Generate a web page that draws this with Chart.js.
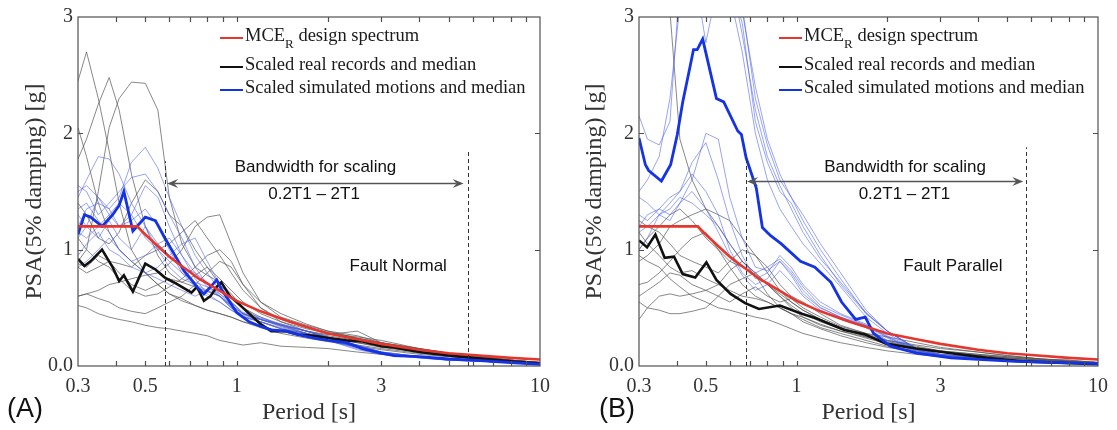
<!DOCTYPE html>
<html>
<head>
<meta charset="utf-8">
<script src="https://cdn.jsdelivr.net/npm/chart.js@4.4.0/dist/chart.umd.min.js"></script>
<style>
  body { margin: 0; background: #fff; width: 1117px; height: 430px; overflow: hidden; position: relative; }
  .panel { position: absolute; top: 0; }
</style>
</head>
<body>
<div class="panel" style="left:0"><canvas id="chartA" width="560" height="430"></canvas></div>
<div class="panel" style="left:560px"><canvas id="chartB" width="557" height="430"></canvas></div>
<script>
// period grid shared by the single records [s]
const periods = [0.3, 0.32, 0.35, 0.38, 0.41, 0.45, 0.5, 0.55, 0.6, 0.66, 0.73, 0.8, 0.88, 0.96, 1.05, 1.2, 1.4, 1.7, 2.0, 2.5, 3.0, 4.0, 5.0, 6.5, 8.0, 10]

// MCE_R design spectrum (same in both panels)
const designPeriods = [0.3, 0.47, 0.5, 0.55, 0.6, 0.65, 0.7, 0.75, 0.8, 0.9, 1.0, 1.2, 1.5, 2.0, 2.5, 3.0, 4.0, 5.0, 6.0, 8.0, 10]
const designPSA = [1.2, 1.2, 1.13, 1.03, 0.94, 0.87, 0.81, 0.75, 0.71, 0.63, 0.56, 0.47, 0.38, 0.28, 0.23, 0.19, 0.14, 0.11, 0.094, 0.07, 0.056]

// (A) fault normal - medians
const medianPeriodsA = [0.3, 0.315, 0.33, 0.36, 0.39, 0.41, 0.425, 0.455, 0.5, 0.54, 0.58, 0.62, 0.67, 0.71, 0.74, 0.78, 0.82, 0.86, 0.89, 0.95, 1.0, 1.1, 1.2, 1.3, 1.45, 1.6, 1.8, 2.0, 2.3, 2.6, 3.0, 3.3, 4.0, 5.0, 6.0, 8.0, 10]
const realMedianA = [0.92, 0.86, 0.9, 1.0, 0.85, 0.73, 0.78, 0.64, 0.88, 0.83, 0.76, 0.72, 0.67, 0.63, 0.68, 0.56, 0.6, 0.68, 0.72, 0.6, 0.55, 0.45, 0.36, 0.3, 0.3, 0.27, 0.26, 0.24, 0.22, 0.21, 0.17, 0.16, 0.12, 0.09, 0.07, 0.04, 0.02]
const simMedianA = [1.13, 1.3, 1.28, 1.2, 1.3, 1.38, 1.5, 1.16, 1.28, 1.25, 1.1, 0.97, 0.82, 0.74, 0.68, 0.62, 0.68, 0.74, 0.66, 0.55, 0.46, 0.38, 0.34, 0.31, 0.3, 0.27, 0.24, 0.22, 0.2, 0.15, 0.11, 0.09, 0.08, 0.06, 0.05, 0.03, 0.015]

// (A) scaled real records
const realA1 = [2.45, 2.7, 2.3, 1.85, 1.4, 1.0, 0.8, 0.7, 0.62, 0.56, 0.52, 0.48, 0.45, 0.42, 0.38, 0.34, 0.3, 0.25, 0.22, 0.18, 0.15, 0.11, 0.08, 0.06, 0.04, 0.02]
const realA2 = [1.78, 1.95, 2.25, 2.48, 2.2, 1.65, 1.2, 0.95, 0.8, 0.72, 0.68, 0.64, 0.6, 0.52, 0.45, 0.38, 0.32, 0.28, 0.25, 0.2, 0.16, 0.12, 0.09, 0.06, 0.045, 0.03]
const realA3 = [2.05, 1.8, 1.4, 1.15, 1.0, 0.9, 0.8, 0.7, 0.62, 0.58, 0.52, 0.48, 0.45, 0.42, 0.38, 0.33, 0.28, 0.24, 0.21, 0.17, 0.14, 0.1, 0.08, 0.06, 0.04, 0.025]
const realA4 = [0.9, 1.0, 1.5, 2.05, 2.3, 2.44, 2.43, 2.2, 1.45, 1.05, 0.85, 0.78, 0.72, 0.62, 0.5, 0.4, 0.34, 0.28, 0.24, 0.2, 0.17, 0.12, 0.09, 0.07, 0.05, 0.03]
const realA5 = [0.6, 0.62, 0.65, 0.7, 0.72, 0.75, 0.78, 0.8, 0.88, 1.0, 1.2, 1.28, 1.3, 1.05, 0.8, 0.55, 0.42, 0.35, 0.3, 0.26, 0.2, 0.15, 0.11, 0.08, 0.05, 0.03]
const realA6 = [0.85, 0.8, 0.85, 0.9, 0.88, 0.85, 0.95, 1.0, 1.05, 1.15, 1.25, 1.1, 0.95, 0.8, 0.65, 0.5, 0.4, 0.33, 0.29, 0.24, 0.2, 0.14, 0.1, 0.07, 0.05, 0.03]
const realA7 = [0.52, 0.5, 0.45, 0.42, 0.4, 0.38, 0.35, 0.33, 0.32, 0.3, 0.28, 0.26, 0.22, 0.2, 0.18, 0.2, 0.17, 0.16, 0.15, 0.12, 0.1, 0.08, 0.06, 0.05, 0.04, 0.02]
const realA8 = [0.6, 0.62, 0.58, 0.55, 0.5, 0.47, 0.45, 0.5, 0.55, 0.6, 0.7, 0.8, 0.9, 0.85, 0.7, 0.5, 0.38, 0.3, 0.27, 0.3, 0.2, 0.13, 0.1, 0.07, 0.05, 0.03]
const realA9 = [0.88, 0.85, 0.95, 0.9, 0.8, 0.7, 0.65, 0.7, 0.75, 0.72, 0.78, 0.85, 0.75, 0.65, 0.55, 0.45, 0.38, 0.32, 0.28, 0.25, 0.22, 0.15, 0.11, 0.08, 0.05, 0.03]
const realA10 = [1.4, 1.3, 1.1, 1.05, 1.15, 1.4, 1.6, 1.5, 1.3, 1.2, 1.0, 0.85, 0.7, 0.6, 0.5, 0.42, 0.35, 0.3, 0.26, 0.22, 0.18, 0.13, 0.1, 0.07, 0.05, 0.03]
const realA11 = [1.1, 1.0, 0.9, 0.85, 0.75, 0.65, 0.6, 0.62, 0.68, 0.75, 0.85, 0.95, 1.0, 0.9, 0.7, 0.55, 0.45, 0.36, 0.3, 0.24, 0.2, 0.15, 0.11, 0.08, 0.05, 0.03]

// (A) scaled simulated motions
const simA1 = [1.45, 1.6, 1.8, 1.78, 1.65, 1.4, 1.2, 1.0, 0.85, 0.75, 0.7, 0.65, 0.6, 0.5, 0.42, 0.38, 0.32, 0.27, 0.22, 0.16, 0.11, 0.08, 0.06, 0.04, 0.03, 0.02]
const simA2 = [1.2, 1.35, 1.4, 1.35, 1.45, 1.75, 1.88, 1.7, 1.45, 1.2, 0.95, 0.8, 0.65, 0.55, 0.45, 0.4, 0.35, 0.3, 0.25, 0.18, 0.12, 0.08, 0.06, 0.04, 0.03, 0.02]
const simA3 = [1.55, 1.5, 1.3, 1.4, 1.5, 1.62, 1.65, 1.5, 1.3, 1.1, 0.85, 0.7, 0.6, 0.5, 0.44, 0.4, 0.35, 0.28, 0.22, 0.16, 0.11, 0.08, 0.06, 0.04, 0.03, 0.02]
const simA4 = [1.1, 1.2, 1.45, 1.35, 1.2, 1.3, 1.55, 1.45, 1.2, 0.95, 0.75, 0.62, 0.55, 0.48, 0.42, 0.38, 0.33, 0.28, 0.24, 0.16, 0.1, 0.08, 0.05, 0.04, 0.03, 0.02]
const simA5 = [1.3, 1.2, 1.1, 1.25, 1.1, 1.0, 1.2, 1.05, 0.95, 0.85, 0.8, 0.72, 0.62, 0.52, 0.45, 0.4, 0.36, 0.3, 0.24, 0.17, 0.12, 0.08, 0.06, 0.04, 0.03, 0.02]
const simA6 = [0.95, 1.05, 1.15, 1.0, 0.95, 0.85, 0.8, 0.85, 0.95, 1.05, 1.1, 0.9, 0.7, 0.55, 0.45, 0.4, 0.35, 0.3, 0.25, 0.18, 0.12, 0.08, 0.06, 0.04, 0.03, 0.02]
const simA7 = [1.35, 1.4, 1.25, 1.15, 1.0, 0.9, 0.8, 0.75, 0.7, 0.65, 0.6, 0.65, 0.6, 0.5, 0.42, 0.4, 0.35, 0.28, 0.22, 0.15, 0.1, 0.07, 0.05, 0.04, 0.03, 0.02]
const simA8 = [1.5, 1.55, 1.45, 1.3, 1.2, 1.25, 1.35, 1.2, 1.0, 0.8, 0.68, 0.6, 0.55, 0.48, 0.43, 0.38, 0.32, 0.27, 0.22, 0.14, 0.1, 0.07, 0.05, 0.04, 0.03, 0.02]
const simA9 = [1.15, 1.1, 1.2, 1.3, 1.4, 1.3, 1.1, 1.0, 0.9, 0.8, 0.72, 0.68, 0.62, 0.55, 0.46, 0.42, 0.36, 0.3, 0.24, 0.16, 0.12, 0.08, 0.06, 0.04, 0.03, 0.02]
const simA10 = [0.85, 0.9, 1.0, 1.1, 1.0, 0.9, 0.95, 1.05, 1.1, 0.95, 0.8, 0.68, 0.6, 0.52, 0.45, 0.41, 0.36, 0.3, 0.25, 0.17, 0.11, 0.07, 0.05, 0.04, 0.03, 0.02]

// (B) fault parallel - medians
const simMedianPeriodsB = [0.3, 0.315, 0.323, 0.356, 0.382, 0.402, 0.419, 0.442, 0.455, 0.468, 0.488, 0.542, 0.573, 0.638, 0.656, 0.68, 0.735, 0.77, 0.82, 0.89, 1.03, 1.15, 1.3, 1.41, 1.57, 1.69, 1.8, 2.05, 2.5, 3.25, 5.3, 10]
const simMedianB = [1.96, 1.73, 1.68, 1.59, 1.73, 1.99, 2.27, 2.56, 2.72, 2.72, 2.81, 2.3, 2.27, 2.02, 1.99, 1.79, 1.53, 1.19, 1.12, 1.05, 0.9, 0.85, 0.72, 0.55, 0.4, 0.42, 0.28, 0.17, 0.11, 0.07, 0.04, 0.02]
const realMedianPeriodsB = [0.3, 0.319, 0.34, 0.365, 0.392, 0.419, 0.461, 0.502, 0.542, 0.604, 0.675, 0.75, 0.88, 1.04, 1.16, 1.44, 1.69, 1.99, 2.49, 3.26, 4.28, 5.61, 10]
const realMedianB = [1.08, 1.02, 1.13, 0.93, 0.94, 0.79, 0.76, 0.89, 0.74, 0.62, 0.54, 0.49, 0.52, 0.45, 0.41, 0.31, 0.27, 0.19, 0.15, 0.11, 0.07, 0.04, 0.015]

// (B) scaled real records
const realB1 = [4.2, 3.9, 3.5, 3.05, 1.95, 1.6, 1.35, 1.2, 1.05, 0.9, 0.8, 0.7, 0.62, 0.55, 0.48, 0.4, 0.33, 0.25, 0.2, 0.15, 0.12, 0.09, 0.07, 0.05, 0.04, 0.03]
const realB2 = [1.0, 1.1, 1.2, 1.3, 1.35, 1.25, 1.1, 1.0, 0.9, 0.85, 0.78, 0.7, 0.6, 0.52, 0.45, 0.38, 0.32, 0.26, 0.2, 0.15, 0.12, 0.09, 0.07, 0.05, 0.04, 0.02]
const realB3 = [0.9, 0.95, 1.05, 1.2, 1.25, 1.3, 1.35, 1.3, 1.25, 1.1, 0.95, 0.8, 0.65, 0.55, 0.48, 0.4, 0.33, 0.27, 0.21, 0.16, 0.13, 0.1, 0.08, 0.06, 0.04, 0.03]
const realB4 = [1.25, 1.2, 1.15, 1.05, 0.95, 0.9, 0.85, 0.8, 0.9, 1.0, 0.95, 0.85, 0.7, 0.6, 0.55, 0.45, 0.35, 0.28, 0.22, 0.17, 0.13, 0.1, 0.08, 0.06, 0.04, 0.03]
const realB5 = [0.55, 0.5, 0.48, 0.45, 0.45, 0.47, 0.5, 0.6, 0.7, 0.75, 0.8, 0.7, 0.6, 0.5, 0.42, 0.35, 0.3, 0.24, 0.19, 0.15, 0.12, 0.09, 0.07, 0.05, 0.04, 0.02]
const realB6 = [0.4, 0.5, 0.6, 0.62, 0.6, 0.62, 0.65, 0.7, 0.82, 0.9, 0.78, 0.62, 0.5, 0.45, 0.38, 0.32, 0.26, 0.2, 0.16, 0.12, 0.09, 0.07, 0.05, 0.04, 0.03, 0.02]
const realB7 = [0.7, 0.72, 0.8, 0.9, 1.0, 1.1, 1.15, 1.0, 0.85, 0.7, 0.6, 0.55, 0.5, 0.45, 0.4, 0.33, 0.28, 0.22, 0.17, 0.13, 0.1, 0.08, 0.06, 0.05, 0.04, 0.02]
const realB8 = [0.95, 0.9, 0.85, 0.75, 0.68, 0.6, 0.55, 0.5, 0.48, 0.45, 0.42, 0.4, 0.36, 0.32, 0.28, 0.24, 0.2, 0.16, 0.13, 0.1, 0.08, 0.06, 0.05, 0.04, 0.03, 0.02]
const realB9 = [0.6, 0.65, 0.72, 0.8, 0.78, 0.7, 0.65, 0.6, 0.55, 0.62, 0.68, 0.6, 0.55, 0.58, 0.5, 0.42, 0.34, 0.28, 0.25, 0.2, 0.16, 0.12, 0.09, 0.06, 0.05, 0.03]
const realB10 = [1.15, 1.05, 0.95, 0.85, 0.8, 0.82, 0.75, 0.7, 0.65, 0.6, 0.58, 0.55, 0.5, 0.45, 0.42, 0.36, 0.3, 0.25, 0.22, 0.18, 0.15, 0.12, 0.09, 0.06, 0.05, 0.03]

// (B) scaled simulated motions
const simB1 = [2.15, 1.95, 1.9, 2.1, 3.3, 3.6, 3.7, 3.5, 3.3, 3.1, 2.3, 1.9, 1.6, 1.45, 1.25, 1.0, 0.75, 0.45, 0.3, 0.15, 0.1, 0.07, 0.05, 0.04, 0.03, 0.02]
const simB2 = [3.6, 3.8, 4.0, 4.2, 4.0, 3.8, 3.6, 3.5, 3.3, 2.95, 2.1, 1.75, 1.5, 1.4, 1.2, 0.95, 0.7, 0.45, 0.3, 0.15, 0.1, 0.07, 0.05, 0.04, 0.03, 0.02]
const simB3 = [1.5, 1.6, 1.8, 2.3, 3.1, 3.5, 2.78, 3.3, 3.4, 3.05, 2.4, 1.95, 1.65, 1.45, 1.3, 1.05, 0.8, 0.48, 0.3, 0.14, 0.09, 0.06, 0.05, 0.04, 0.03, 0.02]
const simB4 = [3.3, 3.5, 3.8, 4.0, 4.1, 4.0, 3.8, 3.5, 3.2, 2.7, 2.0, 1.6, 1.35, 1.2, 1.05, 0.88, 0.68, 0.42, 0.28, 0.14, 0.09, 0.06, 0.05, 0.04, 0.03, 0.02]
const simB5 = [3.1, 3.4, 3.6, 3.9, 4.2, 4.4, 4.2, 3.9, 3.4, 2.85, 2.2, 1.8, 1.55, 1.35, 1.15, 0.92, 0.72, 0.46, 0.3, 0.15, 0.1, 0.07, 0.05, 0.04, 0.03, 0.02]
const simB6 = [1.2, 1.3, 1.35, 1.3, 1.4, 1.6, 2.0, 1.95, 1.45, 1.1, 0.85, 0.82, 0.9, 0.8, 0.65, 0.5, 0.42, 0.35, 0.25, 0.13, 0.09, 0.06, 0.05, 0.04, 0.03, 0.02]
const simB7 = [1.0, 1.1, 1.3, 1.4, 1.5, 1.75, 1.92, 1.6, 1.25, 0.95, 0.75, 0.8, 0.95, 0.85, 0.7, 0.55, 0.45, 0.36, 0.26, 0.14, 0.09, 0.06, 0.05, 0.04, 0.03, 0.02]
const simB8 = [1.3, 1.25, 1.35, 1.45, 1.5, 1.65, 1.5, 1.3, 1.0, 0.8, 0.7, 0.75, 0.9, 0.78, 0.62, 0.5, 0.42, 0.34, 0.24, 0.12, 0.08, 0.06, 0.05, 0.04, 0.03, 0.02]
const simB9 = [1.15, 1.2, 1.3, 1.25, 1.4, 1.5, 1.35, 1.15, 0.95, 0.78, 0.65, 0.7, 0.82, 0.72, 0.6, 0.48, 0.4, 0.33, 0.22, 0.12, 0.08, 0.06, 0.05, 0.04, 0.03, 0.02]
const simB10 = [1.45, 1.4, 1.3, 1.35, 1.45, 1.4, 1.3, 1.2, 1.05, 0.9, 0.8, 0.85, 0.92, 0.82, 0.68, 0.52, 0.44, 0.35, 0.25, 0.13, 0.09, 0.06, 0.05, 0.04, 0.03, 0.02]

// axes
const xTickLabels = [0.3, 0.5, 1, 3, 10]
const xTickMarks = [0.4, 0.5, 0.6, 0.7, 0.8, 0.9, 1, 2, 3, 4, 5, 6, 7, 8, 9]
const yTickLabels = [0, 1, 2, 3]
const yTickMarks = [1, 2]

const legendLabels = ['MCE_R design spectrum', 'Scaled real records and median', 'Scaled simulated motions and median']

const RED = '#e5372d'
const BLACK = '#111111'
const BLUE = '#1432e6'
const GREY_THIN = 'rgba(85, 85, 85, 0.7)'
const BLUE_THIN = 'rgba(70, 90, 232, 0.55)'
const legendColors = [RED, BLACK, BLUE]

const serif = "'Liberation Serif', 'Times New Roman', serif"
const sans = "'Liberation Sans', Arial, sans-serif"

const toPoints = (xs, ys) => xs.map((x, i) => ({x: x, y: ys[i]}))

const line = (xs, ys, color, width) => ({
  data: toPoints(xs, ys),
  borderColor: color,
  borderWidth: width,
  pointRadius: 0,
  fill: false,
  tension: 0
})

function buildDatasets(realMedP, realMed, simMedP, simMed, reals, sims) {
  // first dataset is drawn on top
  return [
    line(designPeriods, designPSA, RED, 2.6),
    line(simMedP, simMed, BLUE, 2.8),
    line(realMedP, realMed, BLACK, 2.6),
    ...sims.map(s => line(periods, s, BLUE_THIN, 1)),
    ...reals.map(r => line(periods, r, GREY_THIN, 1))
  ]
}

function drawArrowHead(ctx, x, y, dir) {
  ctx.beginPath()
  ctx.moveTo(x, y)
  ctx.lineTo(x + dir * 11, y - 4.5)
  ctx.lineTo(x + dir * 7, y)
  ctx.lineTo(x + dir * 11, y + 4.5)
  ctx.closePath()
  ctx.fill()
}

function decor(p) {
  return {
    id: 'decor',
    afterDraw(chart) {
      const ctx = chart.ctx
      const a = chart.chartArea
      const x = chart.scales.x
      const y = chart.scales.y
      ctx.save()

      // frame and inward ticks
      ctx.strokeStyle = '#505050'
      ctx.lineWidth = 1.2
      ctx.strokeRect(a.left, a.top, a.right - a.left, a.bottom - a.top)
      ctx.beginPath()
      xTickMarks.forEach(t => {
        const px = Math.round(x.getPixelForValue(t)) + 0.5
        ctx.moveTo(px, a.bottom); ctx.lineTo(px, a.bottom - 5)
        ctx.moveTo(px, a.top); ctx.lineTo(px, a.top + 5)
      })
      yTickMarks.forEach(v => {
        const py = Math.round(y.getPixelForValue(v)) + 0.5
        ctx.moveTo(a.left, py); ctx.lineTo(a.left + 5, py)
        ctx.moveTo(a.right, py); ctx.lineTo(a.right - 5, py)
      })
      ctx.stroke()

      // bandwidth limits
      ctx.strokeStyle = '#333'
      ctx.lineWidth = 1
      ctx.setLineDash([4, 3])
      p.dashed.forEach(d => {
        const px = Math.round(x.getPixelForValue(d[0])) + 0.5
        ctx.beginPath()
        ctx.moveTo(px, y.getPixelForValue(0))
        ctx.lineTo(px, y.getPixelForValue(d[1]))
        ctx.stroke()
      })
      ctx.setLineDash([])

      // double arrow
      const ax1 = x.getPixelForValue(p.arrow[0])
      const ax2 = x.getPixelForValue(p.arrow[1])
      const ay = Math.round(y.getPixelForValue(p.arrow[2])) + 0.5
      ctx.strokeStyle = '#555'
      ctx.fillStyle = '#555'
      ctx.lineWidth = 1.3
      ctx.beginPath()
      ctx.moveTo(ax1 + 7, ay); ctx.lineTo(ax2 - 7, ay)
      ctx.stroke()
      drawArrowHead(ctx, ax1, ay, 1)
      drawArrowHead(ctx, ax2, ay, -1)

      // annotations
      ctx.fillStyle = '#111'
      ctx.font = '17px ' + sans
      ctx.textAlign = 'center'
      ctx.textBaseline = 'middle'
      p.notes.forEach(n => {
        ctx.fillText(n.text, x.getPixelForValue(n.t), y.getPixelForValue(n.v))
      })

      // legend
      ctx.textAlign = 'left'
      const lx = a.left + p.legendX
      legendLabels.forEach((lab, i) => {
        const ly = a.top + p.legendRows[i]
        ctx.strokeStyle = legendColors[i]
        ctx.lineWidth = 2
        ctx.beginPath()
        ctx.moveTo(lx, ly); ctx.lineTo(lx + 23, ly)
        ctx.stroke()
        ctx.fillStyle = '#1a1a1a'
        ctx.font = '18.5px ' + serif
        let tx = lx + 25
        const parts = lab.split('_')
        ctx.fillText(parts[0], tx, ly - 2)
        if (parts.length > 1) {
          tx += ctx.measureText(parts[0]).width
          ctx.font = '13px ' + serif
          ctx.fillText(parts[1][0], tx, ly + 7)
          tx += ctx.measureText(parts[1][0]).width
          ctx.font = '18.5px ' + serif
          ctx.fillText(parts[1].slice(1), tx, ly - 2)
        }
      })

      // panel letter
      ctx.fillStyle = '#111'
      ctx.font = '27px ' + sans
      ctx.textAlign = 'left'
      ctx.fillText(p.letter, p.letterX, 410)

      ctx.restore()
    }
  }
}

function makeChart(id, p, datasets) {
  return new Chart(document.getElementById(id), {
    type: 'line',
    data: {datasets: datasets},
    options: {
      responsive: false,
      animation: false,
      events: [],
      layout: {padding: {left: 0, top: 15, right: p.right, bottom: 0}},
      plugins: {legend: {display: false}, tooltip: {enabled: false}},
      scales: {
        x: {
          type: 'logarithmic',
          min: 0.3,
          max: 10,
          afterBuildTicks: s => { s.ticks = xTickLabels.map(v => ({value: v})) },
          afterFit: s => { s.height = 64 },
          grid: {display: false, drawTicks: false},
          border: {display: false},
          ticks: {
            padding: 9, color: '#333', autoSkip: false, maxRotation: 0,
            font: {family: serif, size: 20},
            callback: v => String(v)
          },
          title: {
            display: true, text: 'Period [s]', color: '#333',
            font: {family: serif, size: 24}, padding: {top: 0, bottom: 3}
          }
        },
        y: {
          min: 0,
          max: 3,
          afterBuildTicks: s => { s.ticks = yTickLabels.map(v => ({value: v})) },
          afterFit: s => { s.width = p.left },
          grid: {display: false, drawTicks: false},
          border: {display: false},
          ticks: {
            padding: 5, color: '#333',
            font: {family: serif, size: 20},
            callback: v => v === 0 ? '0.0' : String(v)
          },
          title: {
            display: true, text: 'PSA(5% damping) [g]', color: '#333',
            font: {family: serif, size: 24}, padding: {top: 20, bottom: 0}
          }
        }
      }
    },
    plugins: [decor(p)]
  })
}

makeChart('chartA', {
  left: 78, right: 20, letter: '(A)', letterX: 7,
  dashed: [[0.58, 1.76], [5.8, 1.84]],
  arrow: [0.59, 5.6, 1.575],
  notes: [
    {text: 'Bandwidth for scaling', t: 1.82, v: 1.71},
    {text: '0.2T1 \u2013 2T1', t: 1.8, v: 1.48},
    {text: 'Fault Normal', t: 3.41, v: 0.855}
  ],
  legendX: 142, legendRows: [21, 50, 73]
}, buildDatasets(medianPeriodsA, realMedianA, medianPeriodsA, simMedianA,
  [realA1, realA2, realA3, realA4, realA5, realA6, realA7, realA8, realA9, realA10, realA11],
  [simA1, simA2, simA3, simA4, simA5, simA6, simA7, simA8, simA9, simA10]))

makeChart('chartB', {
  left: 79, right: 18, letter: '(B)', letterX: 39,
  dashed: [[0.678, 1.8], [5.75, 1.88]],
  arrow: [0.685, 5.65, 1.59],
  notes: [
    {text: 'Bandwidth for scaling', t: 2.29, v: 1.71},
    {text: '0.2T1 \u2013 2T1', t: 2.28, v: 1.48},
    {text: 'Fault Parallel', t: 3.3, v: 0.855}
  ],
  legendX: 140, legendRows: [21, 50, 73]
}, buildDatasets(realMedianPeriodsB, realMedianB, simMedianPeriodsB, simMedianB,
  [realB1, realB2, realB3, realB4, realB5, realB6, realB7, realB8, realB9, realB10],
  [simB1, simB2, simB3, simB4, simB5, simB6, simB7, simB8, simB9, simB10]))
</script>
</body>
</html>
